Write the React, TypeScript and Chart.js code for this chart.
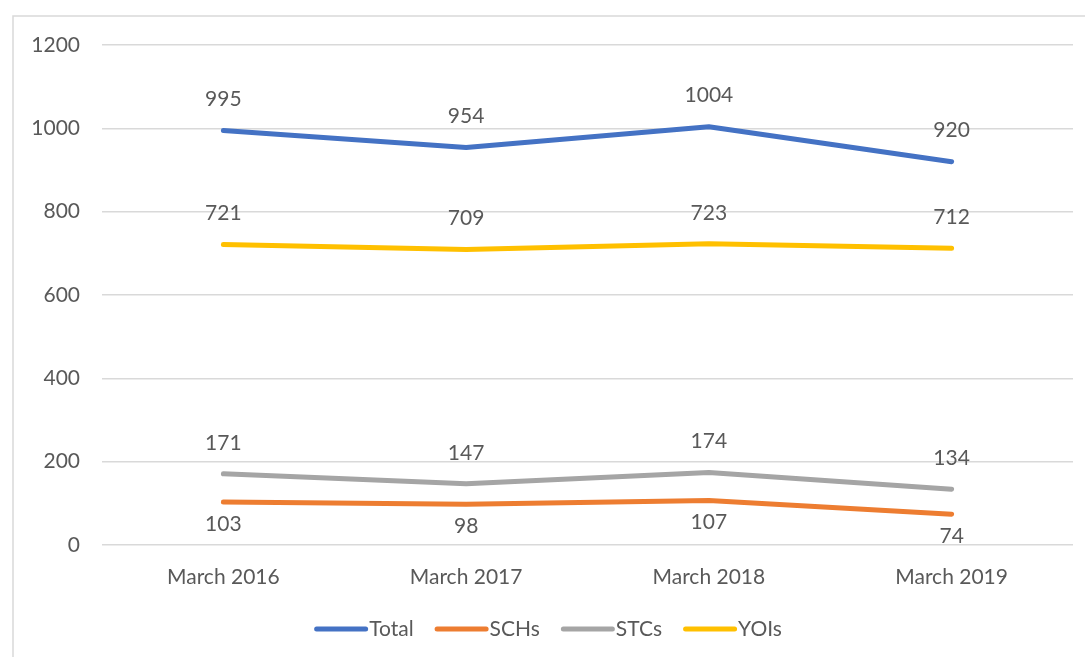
import React, { useEffect, useRef } from "react";
import { Chart, registerables } from "chart.js";

Chart.register(...registerables);

const categories = ["March 2016", "March 2017", "March 2018", "March 2019"];
const totalValues = [995, 954, 1004, 920];
const schValues = [103, 98, 107, 74];
const stcValues = [171, 147, 174, 134];
const yoiValues = [721, 709, 723, 712];
const seriesNames = ["Total", "SCHs", "STCs", "YOIs"];
const seriesColors = ["#4472C4", "#ED7D31", "#A5A5A5", "#FFC000"];
const labelBelow = [false, true, false, false];

const FONT = "Lato, 'Open Sans', sans-serif";
const TEXT = "#595959";
const FS = 21;

const framePlugin = {
  id: "frame",
  beforeDraw(chart: any) {
    const ctx = chart.ctx;
    ctx.save();
    ctx.fillStyle = "#ffffff";
    ctx.fillRect(0, 0, chart.width, chart.height);
    ctx.strokeStyle = "#D9D9D9";
    ctx.lineWidth = 1.5;
    ctx.beginPath();
    ctx.moveTo(13, chart.height);
    ctx.lineTo(13, 16);
    ctx.lineTo(chart.width, 16);
    ctx.stroke();
    ctx.restore();
  },
};

const dataLabelPlugin = {
  id: "dataLabels",
  afterDatasetsDraw(chart: any) {
    const ctx = chart.ctx;
    ctx.save();
    ctx.font = `${FS}px ${FONT}`;
    ctx.fillStyle = TEXT;
    ctx.textAlign = "center";
    ctx.textBaseline = "middle";
    chart.data.datasets.forEach((ds: any, i: number) => {
      const meta = chart.getDatasetMeta(i);
      meta.data.forEach((pt: any, j: number) => {
        const off = labelBelow[i] ? 22 : -31;
        ctx.fillText(String(ds.data[j]), pt.x, pt.y + off);
      });
    });
    ctx.restore();
  },
};

const legendPlugin = {
  id: "customLegend",
  afterDraw(chart: any) {
    const ctx = chart.ctx;
    ctx.save();
    ctx.font = `${FS}px ${FONT}`;
    const sw = 54;
    const gapIn = 1;
    const gapOut = 21;
    const widths = seriesNames.map((n) => ctx.measureText(n).width);
    const total =
      widths.reduce((a, b) => a + b, 0) + seriesNames.length * (sw + gapIn) + (seriesNames.length - 1) * gapOut;
    let x = 548 - total / 2;
    const y = 629;
    ctx.textBaseline = "middle";
    ctx.textAlign = "left";
    seriesNames.forEach((n, i) => {
      ctx.strokeStyle = seriesColors[i];
      ctx.lineWidth = 5;
      ctx.lineCap = "round";
      ctx.beginPath();
      ctx.moveTo(x + 2.5, y);
      ctx.lineTo(x + sw - 2.5, y);
      ctx.stroke();
      x += sw + gapIn;
      ctx.fillStyle = TEXT;
      ctx.fillText(n, x, y);
      x += widths[i] + gapOut;
    });
    ctx.restore();
  },
};

export default function App() {
  const ref = useRef<HTMLCanvasElement | null>(null);
  useEffect(() => {
    document.body.style.margin = "0";
    const canvas = ref.current!;
    const seriesData = [totalValues, schValues, stcValues, yoiValues];
    const chart = new Chart(canvas, {
      type: "line",
      data: {
        labels: categories,
        datasets: seriesNames.map((name, i) => ({
          label: name,
          data: seriesData[i],
          borderColor: seriesColors[i],
          backgroundColor: seriesColors[i],
          borderWidth: 5,
          pointRadius: 0,
          tension: 0,
          borderCapStyle: "round",
          borderJoinStyle: "round",
          fill: false,
        })),
      },
      options: {
        animation: false,
        responsive: false,
        devicePixelRatio: 1,
        layout: { padding: { left: 0, right: 12, top: 45, bottom: 0 } },
        plugins: {
          legend: { display: false },
          tooltip: { enabled: false },
        },
        scales: {
          x: {
            offset: true,
            grid: { display: false, drawTicks: false },
            border: { display: false },
            ticks: { color: TEXT, font: { family: FONT, size: FS }, padding: 20, maxRotation: 0 },
            afterFit(scale: any) {
              scale.height = 112;
            },
          },
          y: {
            min: 0,
            max: 1200,
            grid: { color: "#D9D9D9", lineWidth: 1.5, drawTicks: false },
            border: { display: false },
            ticks: {
              stepSize: 200,
              color: TEXT,
              font: { family: FONT, size: FS },
              padding: 22,
              callback: (v: any) => String(v),
            },
            afterFit(scale: any) {
              scale.width = 102;
            },
          },
        },
      },
      plugins: [framePlugin, dataLabelPlugin, legendPlugin],
    } as any);
    return () => chart.destroy();
  }, []);
  return (
    <div style={{ position: "fixed", left: 0, top: 0, width: 1085, height: 657 }}>
      <canvas ref={ref} width={1085} height={657} style={{ width: 1085, height: 657, display: "block" }} />
    </div>
  );
}
